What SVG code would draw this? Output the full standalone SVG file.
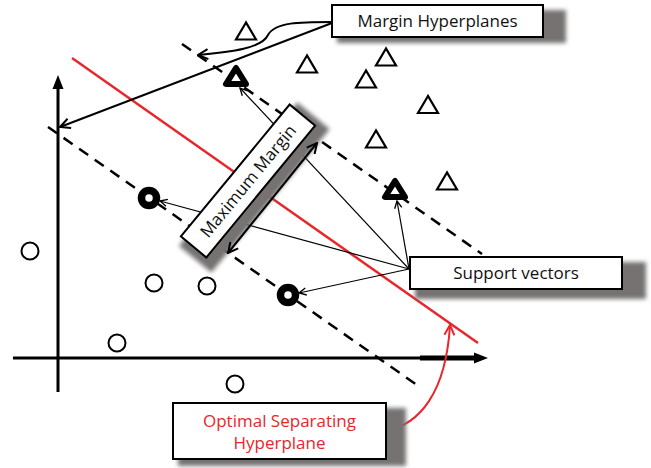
<svg xmlns="http://www.w3.org/2000/svg" width="651" height="468" viewBox="0 0 651 468">
  <style>
    .axis { stroke: #000; stroke-width: 3; fill: none; }
    .margin { stroke: #000; stroke-width: 2.5; stroke-dasharray: 11 8; fill: none; }
    .optimal { stroke: #e8262b; stroke-width: 2.5; fill: none; }
    .tri { fill: #fff; stroke: #000; stroke-width: 2.2; }
    .tri-sv { fill: #fff; stroke: #000; stroke-width: 6; stroke-linejoin: round; }
    .circ { fill: #fff; stroke: #000; stroke-width: 2; }
    .circ-sv { fill: #fff; stroke: #000; stroke-width: 7.5; }
    .link { stroke: #000; stroke-width: 1.2; fill: none; marker-end: url(#arrow-thin); }
    .link-bold { stroke: #000; stroke-width: 2; fill: none; marker-end: url(#arrow); }
    .box { fill: #fff; stroke: #000; stroke-width: 2; }
    .shadow { fill: #767272; filter: url(#soft); }
    .label { font-family: "Open Sans", "Liberation Sans", sans-serif; font-size: 17px; fill: #111; text-anchor: middle; }
    .label-red { fill: #e8262b; }
  </style>
  <defs>
    <filter id="soft" x="-20%" y="-20%" width="140%" height="140%">
      <feGaussianBlur stdDeviation="2"/>
    </filter>
    <marker id="arrow" viewBox="0 0 12 12" refX="11" refY="6" markerWidth="12" markerHeight="12" markerUnits="userSpaceOnUse" orient="auto-start-reverse">
      <path d="M1,1 L11,6 L1,11" fill="none" stroke="#000" stroke-width="2"/>
    </marker>
    <marker id="arrow-thin" viewBox="0 0 10 10" refX="9" refY="5" markerWidth="9" markerHeight="9" markerUnits="userSpaceOnUse" orient="auto">
      <path d="M1,1 L9,5 L1,9" fill="none" stroke="#000" stroke-width="1.5"/>
    </marker>
    <marker id="arrow-red" viewBox="0 0 12 12" refX="11" refY="6" markerWidth="12" markerHeight="12" markerUnits="userSpaceOnUse" orient="auto">
      <path d="M1,1 L11,6 L1,11" fill="none" stroke="#e8262b" stroke-width="2"/>
    </marker>
  </defs>

  <!-- coordinate axes -->
  <g id="axes">
    <line class="axis" x1="58" y1="86" x2="58" y2="392"/>
    <polygon points="58,75 52.5,89 63.5,89" fill="#000"/>
    <line class="axis" x1="13" y1="358" x2="476" y2="358"/>
    <line x1="420" y1="358" x2="476" y2="358" stroke="#000" stroke-width="5"/>
    <polygon points="488,358 474,352.5 474,363.5" fill="#000"/>
  </g>

  <!-- margin hyperplanes and the separating hyperplane -->
  <g id="hyperplanes">
    <line class="margin" x1="182" y1="44" x2="482" y2="254"/>
    <line class="margin" x1="48" y1="127" x2="417" y2="385"/>
    <line class="optimal" x1="72" y1="58" x2="478" y2="343"/>
  </g>

  <!-- class A samples (triangles) -->
  <g id="class-triangles">
    <polygon class="tri" points="246,22.5 236,39.5 256,39.5"/>
    <polygon class="tri" points="307,55.5 297,72.5 317,72.5"/>
    <polygon class="tri" points="386,48.5 376,65.5 396,65.5"/>
    <polygon class="tri" points="366,70.5 356,87.5 376,87.5"/>
    <polygon class="tri" points="428,96 418,113 438,113"/>
    <polygon class="tri" points="376,130.5 366,147.5 386,147.5"/>
    <polygon class="tri" points="447,172.5 437,189.5 457,189.5"/>
    <polygon class="tri-sv" points="236,68 226,84 246,84"/>
    <polygon class="tri-sv" points="395,181 385,197 405,197"/>
  </g>

  <!-- class B samples (circles) -->
  <g id="class-circles">
    <circle class="circ" cx="30" cy="251" r="8.5"/>
    <circle class="circ" cx="154" cy="283" r="8.5"/>
    <circle class="circ" cx="207" cy="286" r="8.5"/>
    <circle class="circ" cx="117" cy="343" r="8.5"/>
    <circle class="circ" cx="235" cy="384" r="8.5"/>
    <circle class="circ-sv" cx="149" cy="198" r="7.5"/>
    <circle class="circ-sv" cx="288" cy="295" r="7.5"/>
  </g>

  <!-- connectors -->
  <g id="connectors">
    <path class="link-bold" d="M332,22 C300,22 275,22 268,35 C262,48 232,52 198,55"/>
    <line class="link-bold" x1="332" y1="23" x2="60" y2="127"/>
    <line class="link" x1="409" y1="269" x2="160" y2="201"/>
    <line class="link" x1="409" y1="269" x2="299" y2="293"/>
    <line class="link" x1="409" y1="269" x2="397" y2="201"/>
    <line class="link" x1="409" y1="269" x2="240" y2="88"/>
    <path d="M385,431 C420,425 446,392 450,325" stroke="#e8262b" stroke-width="2" fill="none" marker-end="url(#arrow-red)"/>
  </g>

  <!-- label boxes -->
  <g id="margin-hyperplanes">
    <rect class="shadow" x="337" y="10" width="229" height="33"/>
    <rect class="box" x="332" y="5" width="211" height="32"/>
    <text class="label" x="437.5" y="27">Margin Hyperplanes</text>
  </g>

  <g id="maximum-margin">
    <g transform="translate(248,181) rotate(-50.5)">
      <rect class="shadow" x="-94" y="-12" width="186" height="42"/>
      <rect class="box" x="-85.5" y="-16.5" width="171" height="33"/>
      <text class="label" x="0" y="6">Maximum Margin</text>
    </g>
  </g>
  <line stroke="#000" stroke-width="2" x1="228" y1="253" x2="317" y2="143" marker-start="url(#arrow)" marker-end="url(#arrow)"/>

  <g id="support-vectors">
    <rect class="shadow" x="415" y="262" width="231" height="37"/>
    <rect class="box" x="410" y="257" width="212" height="32"/>
    <text class="label" x="516" y="279">Support vectors</text>
  </g>

  <g id="optimal-hyperplane">
    <rect class="shadow" x="178" y="408" width="228" height="58"/>
    <rect class="box" x="173" y="403" width="213" height="56"/>
    <text class="label label-red" x="279.5" y="427">Optimal Separating</text>
    <text class="label label-red" x="279.5" y="449">Hyperplane</text>
  </g>
</svg>
